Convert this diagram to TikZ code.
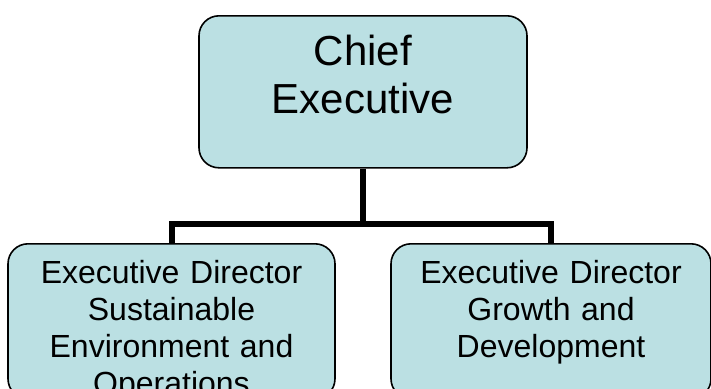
\documentclass[tikz,border=0pt]{standalone}
\usepackage{fontspec}
\setmainfont{Liberation Sans}
\usepackage{tikz}

\definecolor{boxfill}{RGB}{187,224,227}

\begin{document}
\begin{tikzpicture}[x=1pt,y=1pt,
		post/.style={draw=black, line width=0.8pt, fill=boxfill, rounded corners=10pt,
			anchor=north, inner sep=0pt, align=center},
		link/.style={line width=3pt, line join=miter}]
			\useasboundingbox (0,0) rectangle (355.5,194);
			\clip (0,0) rectangle (355.5,194);
			% boxes, text hangs from the top edge
			\node [post, text width=164pt, text height=25pt, text depth=51pt,
				font=\fontsize{21pt}{24pt}\selectfont] (ceo) at (181.5,186.5) {Chief\\Executive};
			\node [post, text width=163.5pt, text height=20pt, text depth=57.5pt,
				font=\fontsize{16pt}{18.5pt}\selectfont] (sust) at (85.75,72.5)
				{Executive Director\\Sustainable\\Environment and\\Operations};
			\node [post, text width=160pt, text height=20pt, text depth=57.5pt,
				font=\fontsize{16pt}{18.5pt}\selectfont] (growth) at (275.5,72.5)
				{Executive Director\\Growth and\\Development};
			% connectors
			\coordinate (bar) at ([yshift=-27.5pt]ceo.south);
			\draw [link] (ceo.south) -- (bar) -| (sust.north);
			\draw [link] (bar) -| (growth.north);
			\end{tikzpicture}
\end{document}
